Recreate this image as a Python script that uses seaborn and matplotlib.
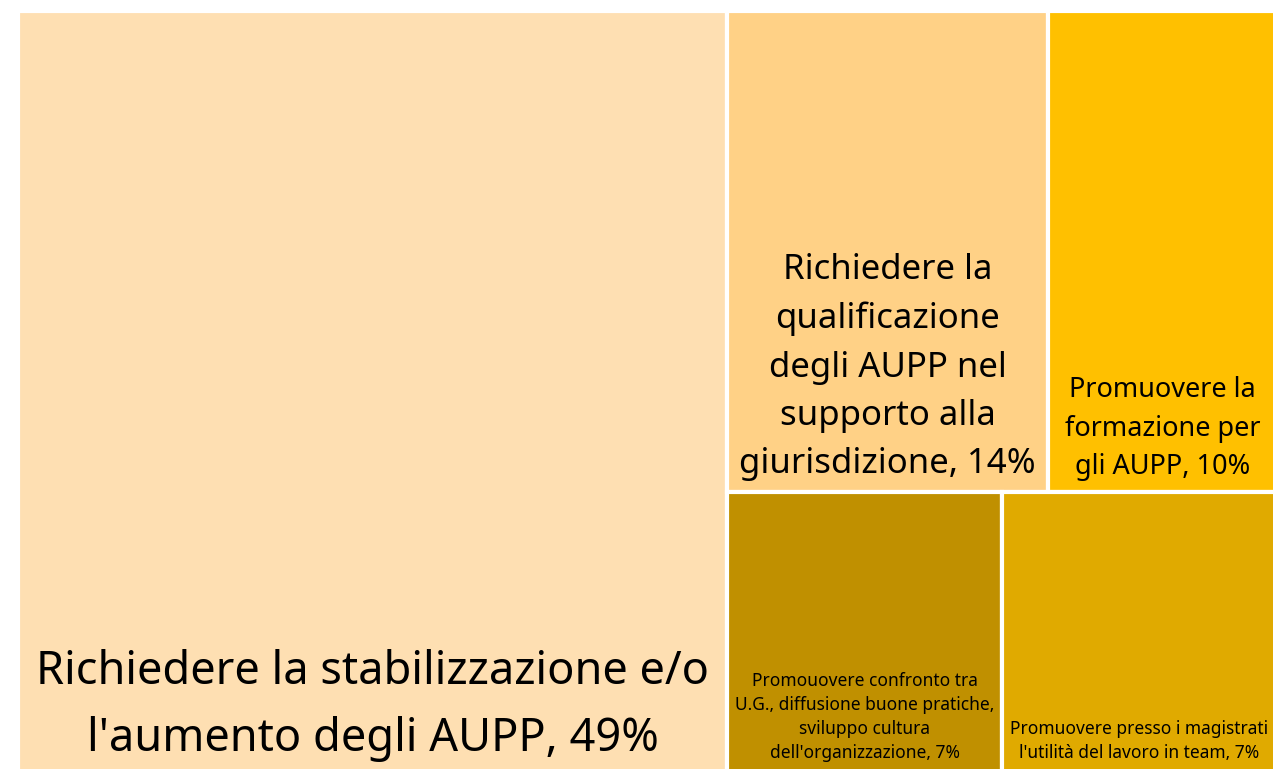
import matplotlib
matplotlib.use("Agg")
import matplotlib.pyplot as plt
import seaborn as sns
from matplotlib.patches import Rectangle

# data
labels = [
    "Richiedere la stabilizzazione e/o\nl'aumento degli AUPP",
    "Richiedere la\nqualificazione\ndegli AUPP nel\nsupporto alla\ngiurisdizione",
    "Promuovere la\nformazione per\ngli AUPP",
    "Promouovere confronto tra\nU.G., diffusione buone pratiche,\nsviluppo cultura\ndell'organizzazione",
    "Promuovere presso i magistrati\nl'utilità del lavoro in team",
]
values = [49, 14, 10, 7, 7]
colors = ["#FEDFB2", "#FFD186", "#FFC000", "#C09000", "#E0AA00"]
font_sizes = [32.5, 25, 19.5, 12.5, 12.5]
line_spacing = [1.6, 1.55, 1.5, 1.42, 1.42]

# grouping used by the treemap: columns -> rows -> items
columns = [[[0]], [[1, 2], [3, 4]]]


def layout(values, columns):
    rects = {}
    total = sum(values)
    x = 0.0
    for col in columns:
        col_sum = sum(values[i] for row in col for i in row)
        w = col_sum / total
        y = 0.0
        for row in col:
            row_sum = sum(values[i] for i in row)
            h = row_sum / col_sum
            xx = x
            for i in row:
                ww = w * values[i] / row_sum
                rects[i] = (xx, y, ww, h)
                xx += ww
            y += h
        x += w
    return rects


sns.set_theme(style="white")
plt.rcParams['font.family'] = ['Noto Sans', 'DejaVu Sans']

fig = plt.figure(figsize=(12.73, 7.69), dpi=100)
ax = fig.add_axes([18 / 1273, -4 / 769, 1259 / 1273, 762 / 769])
ax.set_xlim(0, 1)
ax.set_ylim(1, 0)
ax.axis('off')

rects = layout(values, columns)
for i, (x, y, w, h) in rects.items():
    ax.add_patch(Rectangle((x, y), w, h, facecolor=colors[i],
                           edgecolor='white', linewidth=3))
    ax.annotate(f"{labels[i]}, {values[i]}%", xy=(x + w / 2, y + h),
                xytext=(0, 8), textcoords='offset points',
                ha='center', va='bottom', multialignment='center',
                fontsize=font_sizes[i], color='black',
                linespacing=line_spacing[i])

fig.savefig('out.png', dpi=100)
